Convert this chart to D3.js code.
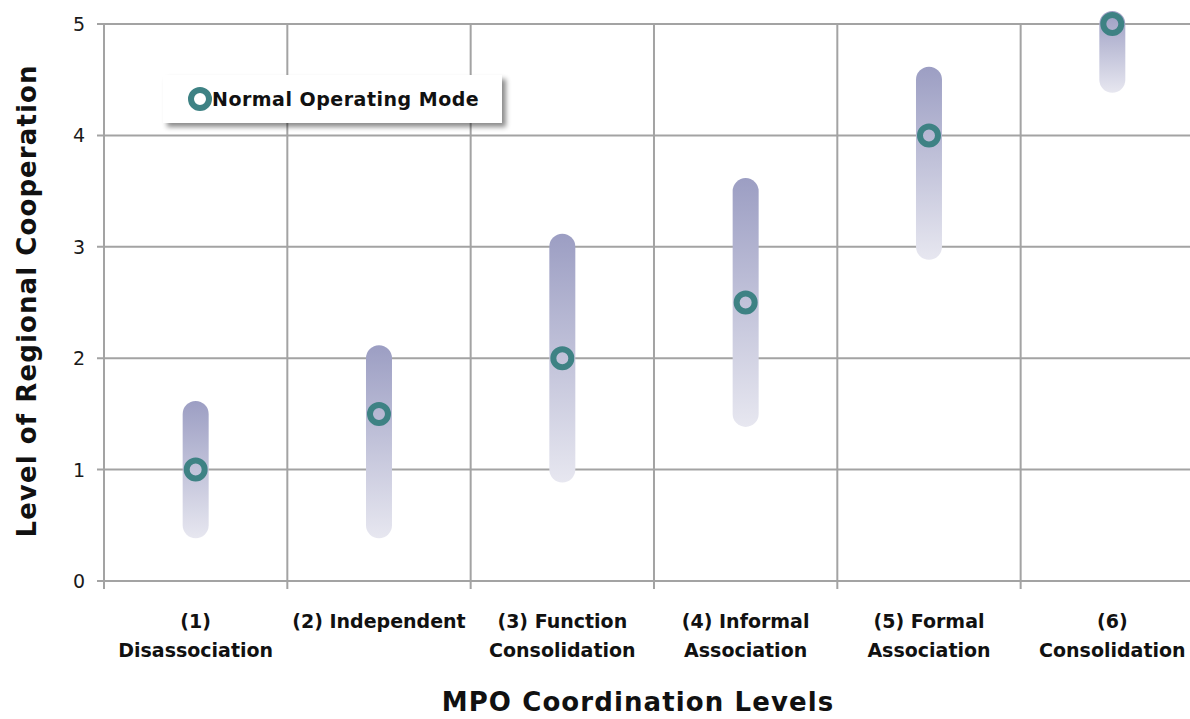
<!DOCTYPE html>
<html>
<head>
<meta charset="utf-8">
<script src="https://cdn.jsdelivr.net/npm/d3@7"></script>
<style>
  html, body { margin: 0; padding: 0; background: #ffffff; overflow: hidden; }
  svg { display: block; }
  text { font-family: "DejaVu Sans", "Lato", sans-serif; }
</style>
</head>
<body>
<svg id="chart" width="1190" height="719"></svg>
<script>
// MPO coordination levels (x categories), each split into label lines
const categories = [
  ["(1)", "Disassociation"],
  ["(2) Independent"],
  ["(3) Function", "Consolidation"],
  ["(4) Informal", "Association"],
  ["(5) Formal", "Association"],
  ["(6)", "Consolidation"]
];
// range of regional cooperation for each level
const rangeLow  = [0.5, 0.5, 1.0, 1.5, 3.0, 4.5];
const rangeHigh = [1.5, 2.0, 3.0, 3.5, 4.5, 5.0];
// normal operating mode
const normalMode = [1.0, 1.5, 2.0, 2.5, 4.0, 5.0];
const yTicks = [0, 1, 2, 3, 4, 5];

const svg = d3.select("#chart");
const plot = { left: 104, top: 24, bottom: 581, bandW: 183.33 };
const names = categories.map(c => c.join(" "));

const x = d3.scaleBand()
  .domain(names)
  .range([plot.left, plot.left + plot.bandW * names.length])
  .paddingInner(0).paddingOuter(0);
const y = d3.scaleLinear().domain([0, 5]).range([plot.bottom, plot.top]);

const gridColor = "#a3a3a3";
const defs = svg.append("defs");

const grad = defs.append("linearGradient")
  .attr("id", "barGrad").attr("x1", 0).attr("y1", 0).attr("x2", 0).attr("y2", 1);
grad.append("stop").attr("offset", "0%").attr("stop-color", "#9c9ec3");
grad.append("stop").attr("offset", "100%").attr("stop-color", "#e7e7f0");

const shadow = defs.append("filter").attr("id", "legendShadow")
  .attr("x", "-10%").attr("y", "-20%").attr("width", "130%").attr("height", "160%");
shadow.append("feDropShadow").attr("dx", 4).attr("dy", 4)
  .attr("stdDeviation", 2.5).attr("flood-color", "#000").attr("flood-opacity", 0.45);

// horizontal gridlines
svg.append("g").selectAll("line").data(yTicks).join("line")
  .attr("x1", plot.left - 7).attr("x2", 1190)
  .attr("y1", d => y(d)).attr("y2", d => y(d))
  .attr("stroke", gridColor).attr("stroke-width", 2);

// vertical gridlines at category boundaries
const bounds = names.map(n => x(n)).concat([x(names[names.length - 1]) + x.bandwidth()]);
svg.append("g").selectAll("line").data(bounds).join("line")
  .attr("x1", d => d).attr("x2", d => d)
  .attr("y1", plot.top).attr("y2", plot.bottom + 8)
  .attr("stroke", gridColor).attr("stroke-width", 2);

// y tick labels
svg.append("g").selectAll("text").data(yTicks).join("text")
  .attr("x", 85).attr("y", d => y(d) + 7)
  .attr("text-anchor", "end")
  .attr("font-size", 19).attr("fill", "#1a1a1a")
  .text(d => d);

// x tick labels
const xl = svg.append("g").selectAll("text").data(categories).join("text")
  .attr("text-anchor", "middle")
  .attr("font-size", 19).attr("font-weight", "bold").attr("fill", "#111");
xl.each(function(lines, i) {
  const cx = x(names[i]) + x.bandwidth() / 2;
  d3.select(this).selectAll("tspan").data(lines).join("tspan")
    .attr("x", cx).attr("y", (d, j) => 628 + j * 29)
    .text(d => d);
});

// range bars with rounded ends
const barW = 26;
svg.append("g").selectAll("rect").data(names).join("rect")
  .attr("x", d => x(d) + x.bandwidth() / 2 - barW / 2)
  .attr("y", (d, i) => y(rangeHigh[i]) - barW / 2)
  .attr("width", barW)
  .attr("height", (d, i) => y(rangeLow[i]) - y(rangeHigh[i]) + barW)
  .attr("rx", barW / 2).attr("ry", barW / 2)
  .attr("fill", "url(#barGrad)");

// normal operating mode markers
const ring = { r: 9, w: 6, color: "#3e8284" };
svg.append("g").selectAll("circle").data(names).join("circle")
  .attr("cx", d => x(d) + x.bandwidth() / 2)
  .attr("cy", (d, i) => y(normalMode[i]))
  .attr("r", ring.r)
  .attr("fill", "none")
  .attr("stroke", ring.color).attr("stroke-width", ring.w);

// legend
const lg = svg.append("g");
lg.append("rect").attr("x", 163).attr("y", 75).attr("width", 339).attr("height", 48)
  .attr("fill", "#fff").attr("filter", "url(#legendShadow)");
lg.append("circle").attr("cx", 200).attr("cy", 99).attr("r", ring.r)
  .attr("fill", "#fff").attr("stroke", ring.color).attr("stroke-width", ring.w);
lg.append("text").attr("x", 212).attr("y", 106)
  .attr("font-size", 19).attr("font-weight", "bold").attr("fill", "#111")
  .attr("letter-spacing", 0.5)
  .text("Normal Operating Mode");

// axis titles
svg.append("text")
  .attr("transform", "translate(36,301) rotate(-90)")
  .attr("text-anchor", "middle")
  .attr("font-size", 26).attr("font-weight", "bold").attr("fill", "#111")
  .attr("letter-spacing", 1.1)
  .text("Level of Regional Cooperation");

svg.append("text")
  .attr("x", 638).attr("y", 711)
  .attr("text-anchor", "middle")
  .attr("font-size", 26).attr("font-weight", "bold").attr("fill", "#111")
  .attr("letter-spacing", 1.1)
  .text("MPO Coordination Levels");
</script>
</body>
</html>
